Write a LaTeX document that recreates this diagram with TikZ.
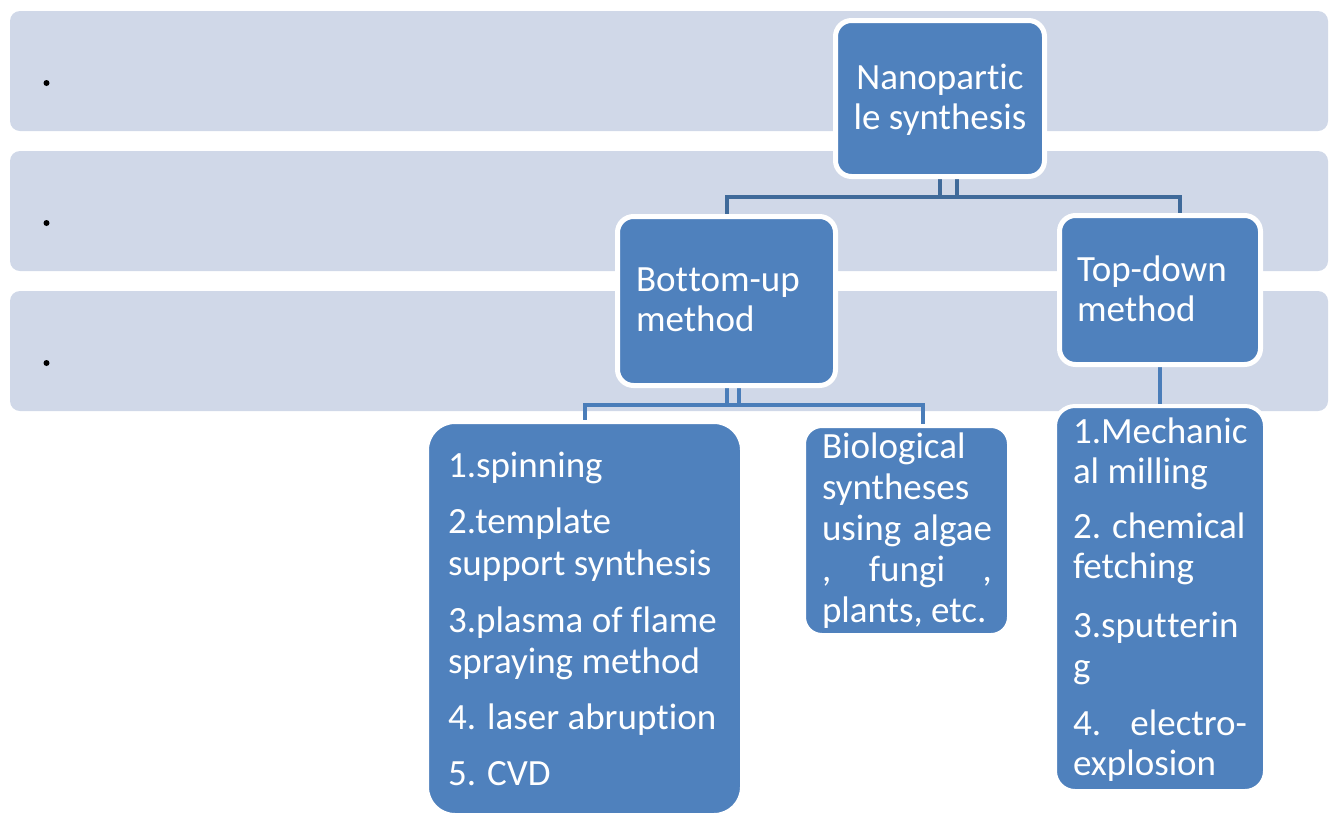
\documentclass[tikz,border=0pt]{standalone}
\usepackage{fontspec}
\setmainfont{Carlito}[RawFeature={-liga;-clig;-dlig}]
\pgfdeclarelayer{bands}
\pgfdeclarelayer{links}
\pgfsetlayers{bands,links,main}
\definecolor{band}{HTML}{D0D8E8}
\definecolor{boxblue}{HTML}{4F81BD}
\definecolor{linkdark}{HTML}{3F6A9A}
\definecolor{linklight}{HTML}{4A7DB9}
\begin{document}
\begin{tikzpicture}[x=1pt,y=-1pt,
  bandbox/.style={fill=band, rounded corners=10pt},
  mainbox/.style={draw=white, line width=5pt, fill=boxblue, rounded corners=16pt, inner sep=0pt},
  listbox/.style={draw=white, line width=4pt, fill=boxblue, rounded corners=20pt, inner sep=0pt},
  txt/.style={anchor=base west, inner sep=0pt, outer sep=0pt, text=white, font=\fontsize{37}{41}\selectfont},
  ctxt/.style={txt, anchor=base},
  darklink/.style={draw=linkdark, line width=4pt},
  lightlink/.style={draw=linklight, line width=4pt},
  dot/.style={circle, fill=black, inner sep=0pt, minimum size=6pt}]
\useasboundingbox (0,0) rectangle (1336,815);

\begin{pgfonlayer}{bands}
  \fill[bandbox] (10,11) rectangle (1328,131);
  \fill[bandbox] (10,151) rectangle (1328,271);
  \fill[bandbox] (10,291) rectangle (1328,411);
\end{pgfonlayer}

\node[dot] (b1) at (46.5,83) {};
\node[dot] (b2) at (46.5,223) {};
\node[dot] (b3) at (46.5,363) {};

% boxes
\node[mainbox, minimum width=209pt, minimum height=156pt] (root) at (940,98.5) {};
\node[mainbox, minimum width=218pt, minimum height=169pt] (bu) at (726.5,301) {};
\node[mainbox, minimum width=201pt, minimum height=149pt] (td) at (1160,290) {};
\node[listbox, rounded corners=28pt, minimum width=315pt, minimum height=393pt] (sp) at (584.5,618.5) {};
\node[listbox, rounded corners=18pt, minimum width=205pt, minimum height=209pt] (bio) at (906.5,530.5) {};
\node[listbox, rounded corners=20pt, minimum width=210pt, minimum height=385pt] (tl) at (1160,598.5) {};

% texts
\node[ctxt] (r1) at (940,89) {Nanopartic};
\node[ctxt] (r2) at (940,129) {le synthesis};

\node[txt] (bu1) at (636,291) {Bot\kern0.5pt tom-up};
\node[txt] (bu2) at (636,331) {method};

\node[txt] (td1) at (1077,281) {Top-down};
\node[txt] (td2) at (1077,321) {method};

\node[txt] (s1) at (448,477) {1.spinning};
\node[txt] (s2) at (448,533) {2.template};
\node[txt] (s3) at (448,575) {support synthesis};
\node[txt] (s4) at (448,632) {3.plasma of f\kern0.5pt lame};
\node[txt] (s5) at (448,673) {spraying method};
\node[txt] (s6) at (448,729) {4. laser abruption};
\node[txt] (s7) at (448,785) {5. CVD};

\node[txt] (g1) at (822,458) {Biological};
\node[txt] (g2) at (822,499) {syntheses};
\node[txt] (g3) at (822,540) {\makebox[170pt][s]{using algae}};
\node[txt] (g4) at (822,581) {\makebox[170pt][s]{,\hfill fungi\hfill ,}};
\node[txt] (g5) at (822,622) {plants, etc.};

\node[txt] (l1) at (1073,443) {1.Mechanic};
\node[txt] (l2) at (1073,483) {al milling};
\node[txt] (l3) at (1073,538) {2. chemical};
\node[txt] (l4) at (1073,578) {fetching};
\node[txt] (l5) at (1073,637) {3.sput\kern0.5pt terin};
\node[txt] (l6) at (1073,678) {g};
\node[txt] (l7) at (1073,735) {\makebox[174pt][s]{4.\hfill electro-}};
\node[txt] (l8) at (1073,775) {explosion};

% connectors
\begin{pgfonlayer}{links}
  \draw[darklink] ([xshift=17pt]root.south) -- ++(0,18) -| (bu.north);
  \draw[darklink] (root.south) -- ++(0,18) -| ([xshift=20pt]td.north);
  \draw[lightlink] ([xshift=12pt]bu.south) -- ++(0,17) -| (sp.north);
  \draw[lightlink] (bu.south) -- ++(0,17) -| ([xshift=16pt]bio.north);
  \draw[lightlink] (td.south) -- (tl.north);
\end{pgfonlayer}
\end{tikzpicture}
\end{document}
